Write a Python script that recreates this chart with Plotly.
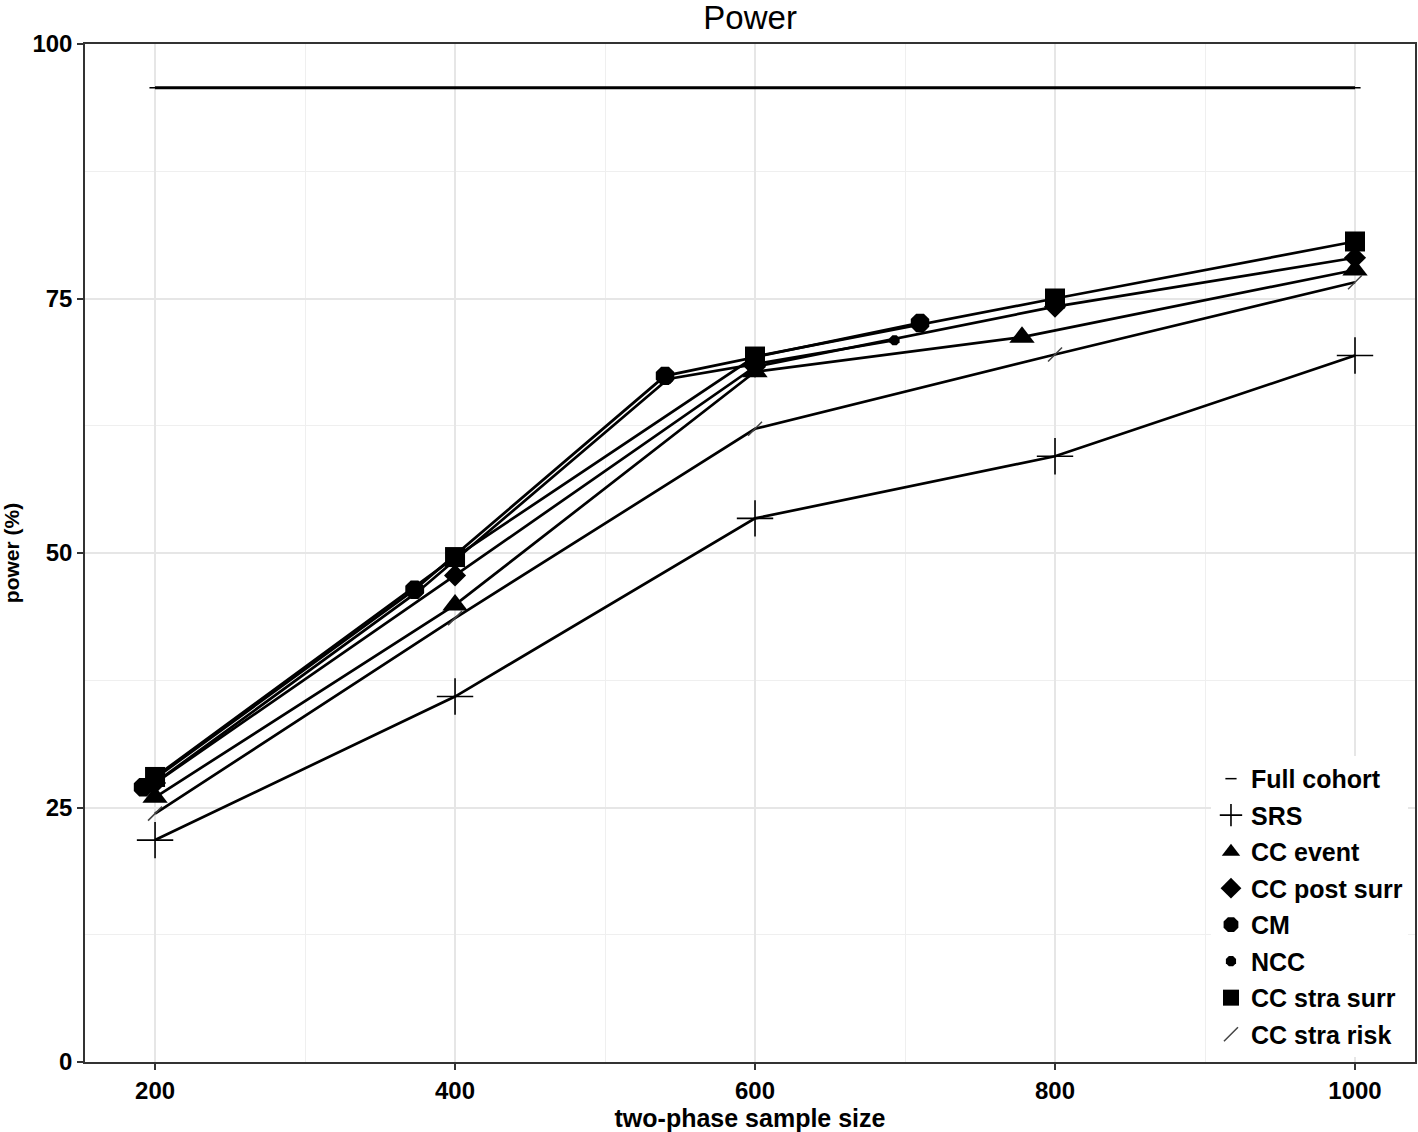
import plotly.graph_objects as go

# ---- data ----
full_x = [200, 400, 600, 800, 1000]
full_y = [95.7, 95.7, 95.7, 95.7, 95.7]

srs_x = [200, 400, 600, 800, 1000]
srs_y = [21.8, 35.9, 53.4, 59.5, 69.4]

cc_event_x = [200, 400, 600, 778, 1000]
cc_event_y = [26.0, 44.9, 67.8, 71.2, 77.8]

cc_post_x = [200, 400, 600, 800, 1000]
cc_post_y = [27.4, 47.8, 68.3, 74.2, 79.0]

cm_x = [192, 373, 540, 710]
cm_y = [27.0, 46.4, 67.4, 72.6]

ncc_x = [196, 376, 542, 693]
ncc_y = [27.0, 46.3, 67.1, 70.9]

cc_stra_surr_x = [200, 400, 600, 800, 1000]
cc_stra_surr_y = [28.0, 49.6, 69.3, 75.0, 80.6]

cc_stra_risk_x = [200, 400, 600, 800, 1000]
cc_stra_risk_y = [24.4, 43.6, 62.2, 69.5, 76.6]

series = [
    ("Full cohort", full_x, full_y, dict(symbol="line-ew", size=8, line=dict(width=1.5, color="black"))),
    ("SRS", srs_x, srs_y, dict(symbol="cross-thin", size=26, line=dict(width=1.6, color="black"))),
    ("CC event", cc_event_x, cc_event_y, dict(symbol="triangle-up", size=22)),
    ("CC post surr", cc_post_x, cc_post_y, dict(symbol="diamond", size=17)),
    ("CM", cm_x, cm_y, dict(symbol="octagon", size=20)),
    ("NCC", ncc_x, ncc_y, dict(symbol="octagon", size=11)),
    ("CC stra surr", cc_stra_surr_x, cc_stra_surr_y, dict(symbol="square", size=20)),
    ("CC stra risk", cc_stra_risk_x, cc_stra_risk_y, dict(symbol="line-ne", size=14, line=dict(width=1.5, color="#444"))),
]

FONT = "Liberation Sans, Arial, sans-serif"

fig = go.Figure()

# lines (no legend)
for name, xs, ys, mk in series:
    fig.add_trace(go.Scatter(
        x=xs, y=ys, mode="lines", showlegend=False, hoverinfo="skip",
        line=dict(color="black", width=3 if name == "Full cohort" else 2.7),
    ))

# markers (legend)
for name, xs, ys, mk in series:
    m = dict(color="black")
    m.update(mk)
    fig.add_trace(go.Scatter(x=xs, y=ys, mode="markers", name=name, marker=m,
                             legendgroup=name))

fig.update_layout(
    width=1418, height=1132,
    margin=dict(l=85, r=3, t=44, b=70, autoexpand=False),
    paper_bgcolor="white", plot_bgcolor="white",
    font=dict(family=FONT, color="black"),
    title=dict(text="Power", x=0.529, xanchor="center", y=0.995, yanchor="top",
               font=dict(size=33, color="black", family=FONT)),
    legend=dict(x=0.8466, xanchor="left", y=0.005, yanchor="bottom",
                bgcolor="white", borderwidth=0,
                font=dict(size=25, color="black", family=FONT, weight="bold"),
                tracegroupgap=1, itemsizing="trace"),
)

fig.update_xaxes(
    range=[153.3, 1040], tick0=200, dtick=200, automargin=False,
    showgrid=True, gridcolor="#e6e6e6", gridwidth=1.5,
    minor=dict(dtick=100, tick0=200, showgrid=True, gridcolor="#efefef", gridwidth=1),
    showline=True, linecolor="#333333", linewidth=1.5, mirror=True,
    ticks="outside", ticklen=6, tickcolor="#333333", tickwidth=1.5,
    tickfont=dict(size=24, color="black", family=FONT, weight="bold"),
    title=dict(text="two-phase sample size", standoff=3,
               font=dict(size=25, color="black", family=FONT, weight="bold")),
    zeroline=False,
)
fig.update_yaxes(
    range=[0, 100], tick0=0, dtick=25, automargin=False,
    showgrid=True, gridcolor="#e6e6e6", gridwidth=1.5,
    minor=dict(dtick=12.5, tick0=0, showgrid=True, gridcolor="#efefef", gridwidth=1),
    showline=True, linecolor="#333333", linewidth=1.5, mirror=True,
    ticks="outside", ticklen=6, tickcolor="#333333", tickwidth=1.5,
    tickfont=dict(size=24, color="black", family=FONT, weight="bold"),
    title=dict(text="power (%)", standoff=8,
               font=dict(size=21, color="black", family=FONT, weight="bold")),
    zeroline=False,
)

fig.write_html("out.html",
               config={"displayModeBar": False},
               post_script="document.body.style.margin='0';document.body.style.padding='0';")
